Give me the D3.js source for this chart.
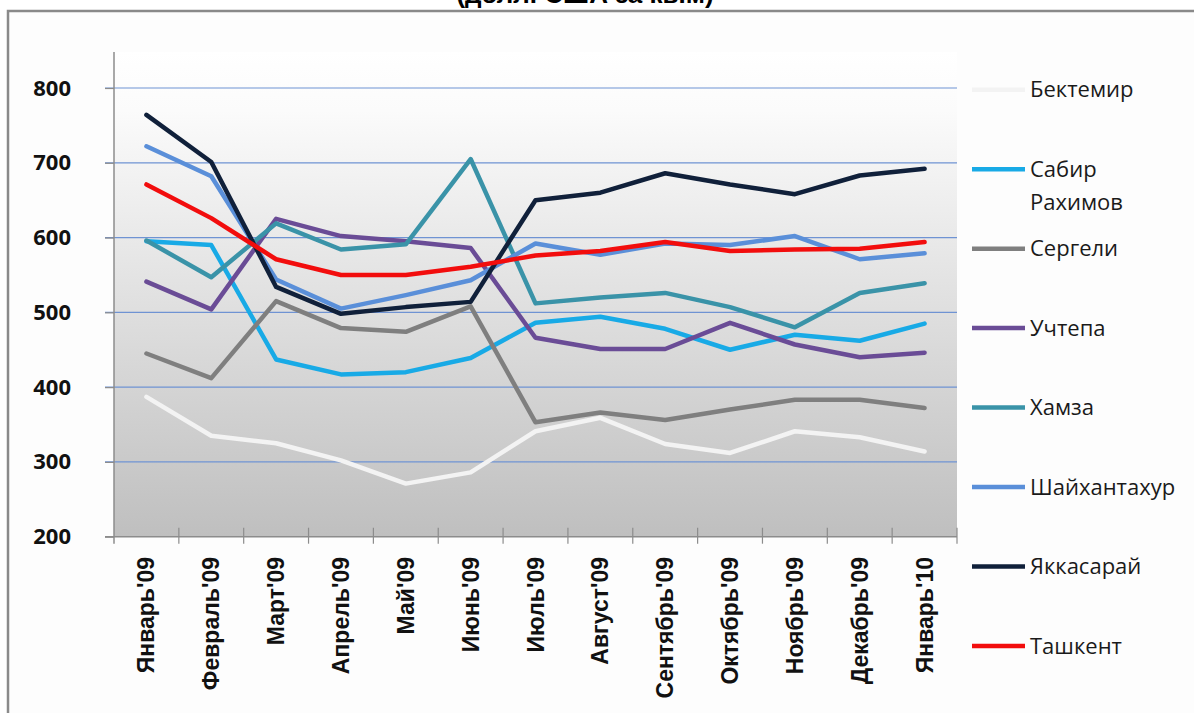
<!DOCTYPE html>
<html>
<head>
<meta charset="utf-8">
<script src="https://cdn.jsdelivr.net/npm/d3@7"></script>
<style>
  html, body { margin: 0; padding: 0; background: #ffffff; }
  svg { display: block; }
</style>
</head>
<body>
<svg id="chart" width="1194" height="713"></svg>
<script>
// Monthly prices by district, USD per square metre
const months = ["Январь'09", "Февраль'09", "Март'09", "Апрель'09", "Май'09", "Июнь'09",
  "Июль'09", "Август'09", "Сентябрь'09", "Октябрь'09", "Ноябрь'09", "Декабрь'09", "Январь'10"];

const bektemir      = [387, 335, 325, 302, 271, 286, 341, 359, 324, 312, 341, 333, 314];
const sabirRakhimov = [595, 590, 437, 417, 420, 439, 486, 494, 478, 450, 470, 462, 485];
const sergeli       = [445, 412, 515, 479, 474, 508, 353, 366, 356, 370, 383, 383, 372];
const uchtepa       = [541, 504, 625, 602, 595, 586, 466, 451, 451, 486, 457, 440, 446];
const khamza        = [596, 547, 619, 584, 591, 705, 512, 520, 526, 507, 480, 526, 539];
const shaykhantakhur= [722, 682, 544, 505, 523, 543, 592, 577, 592, 590, 602, 571, 579];
const yakkasaray    = [764, 701, 534, 498, 507, 514, 650, 660, 686, 671, 658, 683, 692];
const tashkent      = [671, 626, 571, 550, 550, 561, 576, 582, 594, 582, 584, 585, 594];

const seriesNames = ["Бектемир", "Сабир Рахимов", "Сергели", "Учтепа", "Хамза",
  "Шайхантахур", "Яккасарай", "Ташкент"];
const seriesValues = [bektemir, sabirRakhimov, sergeli, uchtepa, khamza,
  shaykhantakhur, yakkasaray, tashkent];
const seriesColors = ["#f3f3f3", "#18aae6", "#7f7f7f", "#6a4c96", "#3a93a8",
  "#5a8fd9", "#10203a", "#f20d0d"];

const yTicks = [200, 300, 400, 500, 600, 700, 800];
const titleText = "(долл. США за кв.м)";

const svg = d3.select("#chart");

// Outer frame (extends past the visible page)
svg.append("rect")
  .attr("x", 8).attr("y", 11)
  .attr("width", 1200).attr("height", 720)
  .attr("fill", "#fdfdfd")
  .attr("stroke", "#8a8a8a")
  .attr("stroke-width", 2.5);

// Title, partially above the frame
svg.append("text")
  .attr("x", 585).attr("y", 3)
  .attr("text-anchor", "middle")
  .attr("font-family", "Liberation Sans, Arial, sans-serif")
  .attr("font-weight", "bold")
  .attr("font-size", 26)
  .attr("fill", "#000")
  .text(titleText);

const plotLeft = 114, plotRight = 957, plotTop = 52, plotBottom = 536.7;

const x = d3.scaleBand().domain(months).range([plotLeft, plotRight]).padding(0);
const y = d3.scaleLinear().domain([200, 800]).range([plotBottom, 88]);
const cx = m => x(m) + x.bandwidth() / 2;

// Plot area gradient
const defs = svg.append("defs");
const grad = defs.append("linearGradient")
  .attr("id", "plotBg").attr("x1", 0).attr("y1", 0).attr("x2", 0).attr("y2", 1);
grad.append("stop").attr("offset", "0%").attr("stop-color", "#ffffff");
grad.append("stop").attr("offset", "12%").attr("stop-color", "#fbfbfb");
grad.append("stop").attr("offset", "100%").attr("stop-color", "#bfbfbf");

svg.append("rect")
  .attr("x", plotLeft).attr("y", plotTop)
  .attr("width", plotRight - plotLeft).attr("height", plotBottom - plotTop)
  .attr("fill", "url(#plotBg)");

// Horizontal gridlines
svg.append("g")
  .selectAll("line")
  .data(yTicks.filter(t => t > 200))
  .join("line")
  .attr("x1", plotLeft - 9).attr("x2", plotRight)
  .attr("y1", d => y(d)).attr("y2", d => y(d))
  .attr("stroke", "#6f93d3")
  .attr("stroke-width", 1.2);

// Y axis
const yAxis = svg.append("g")
  .attr("transform", `translate(${plotLeft},0)`)
  .call(d3.axisLeft(y).tickValues(yTicks).tickSize(9).tickPadding(34).tickFormat(d3.format("d")));
yAxis.select(".domain").remove();
yAxis.selectAll(".tick line").attr("stroke", "#8c8c8c").attr("stroke-width", 1.2);
yAxis.selectAll(".tick text")
  .attr("font-family", "Open Sans, Liberation Sans, sans-serif")
  .attr("font-weight", "bold")
  .attr("font-size", 22)
  .attr("fill", "#111");
svg.append("line")
  .attr("x1", plotLeft).attr("x2", plotLeft)
  .attr("y1", plotTop).attr("y2", plotBottom + 7)
  .attr("stroke", "#8c8c8c").attr("stroke-width", 1.5);

// X axis: baseline, cross ticks at band edges, rotated labels
svg.append("line")
  .attr("x1", plotLeft - 9).attr("x2", plotRight)
  .attr("y1", plotBottom).attr("y2", plotBottom)
  .attr("stroke", "#8c8c8c").attr("stroke-width", 1.5);

const edges = months.map(m => x(m)).concat([x.range()[1]]).slice(1);
svg.append("g")
  .selectAll("line")
  .data(edges)
  .join("line")
  .attr("x1", d => d).attr("x2", d => d)
  .attr("y1", plotBottom - 9).attr("y2", plotBottom + 7)
  .attr("stroke", "#8c8c8c").attr("stroke-width", 1.2);

svg.append("g")
  .selectAll("text")
  .data(months)
  .join("text")
  .attr("transform", d => `translate(${cx(d) + 8},557) rotate(-90)`)
  .attr("text-anchor", "end")
  .attr("font-family", "Liberation Sans, Arial, sans-serif")
  .attr("font-weight", "bold")
  .attr("font-size", 23)
  .attr("fill", "#111")
  .text(d => d);

// Series lines
const line = d3.line()
  .x((d, i) => cx(months[i]))
  .y(d => y(d));

svg.append("g")
  .selectAll("path")
  .data(seriesValues)
  .join("path")
  .attr("d", d => line(d))
  .attr("fill", "none")
  .attr("stroke", (d, i) => seriesColors[i])
  .attr("stroke-width", 4.5)
  .attr("stroke-linejoin", "round")
  .attr("stroke-linecap", "round");

// Legend
const legendY = d3.scaleLinear().domain([0, seriesNames.length - 1]).range([89.7, 646]);
const legend = svg.append("g")
  .selectAll("g")
  .data(seriesNames)
  .join("g")
  .attr("transform", (d, i) => `translate(0,${legendY(i)})`);

legend.append("line")
  .attr("x1", 972).attr("x2", 1025)
  .attr("y1", 0).attr("y2", 0)
  .attr("stroke", (d, i) => seriesColors[i])
  .attr("stroke-width", 4.5);

legend.append("text")
  .attr("x", 1030)
  .attr("font-family", "Open Sans, Noto Sans, sans-serif")
  .attr("font-size", 22)
  .attr("fill", "#1a1a1a")
  .each(function (d) {
    const words = d.split(" ");
    const t = d3.select(this);
    words.forEach((w, k) => {
      t.append("tspan")
        .attr("x", 1030)
        .attr("y", k * 33)
        .attr("dy", "0.35em")
        .text(w);
    });
  });
</script>
</body>
</html>
